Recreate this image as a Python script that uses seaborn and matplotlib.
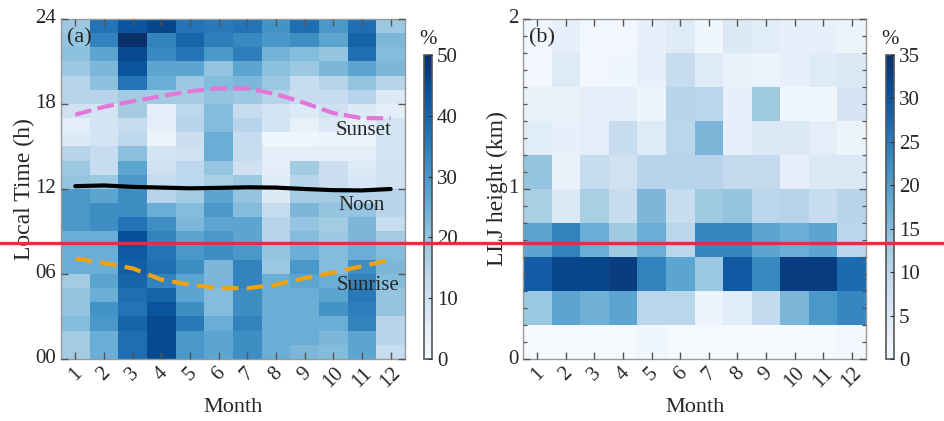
import numpy as np
import pandas as pd
import matplotlib
matplotlib.use("Agg")
import matplotlib.pyplot as plt
from matplotlib.lines import Line2D
from matplotlib.ticker import FixedLocator
import seaborn as sns

months = [str(m) for m in range(1, 13)]

# LLJ occurrence (%) by local hour, rows listed top (23-24 h) to bottom (00-01 h)
hour_rows = list(range(23, -1, -1))
time_pct = [
    [19, 37, 43, 46, 37, 36, 37, 31, 38, 30, 38, 19],
    [20, 34, 50, 34, 40, 35, 33, 30, 32, 27, 40, 23],
    [21, 27, 45, 33, 37, 30, 35, 24, 22, 20, 38, 22],
    [19, 23, 43, 27, 27, 20, 27, 21, 19, 23, 27, 23],
    [15, 21, 37, 25, 19, 22, 23, 19, 12, 15, 20, 15],
    [15, 15, 18, 18, 18, 20, 19, 15, 12, 12, 15, 7],
    [10, 9, 18, 5, 14, 22, 12, 9, 7, 10, 7, 5],
    [5, 9, 12, 5, 15, 22, 15, 9, 4, 7, 5, 9],
    [7, 9, 14, 3, 11, 25, 12, 2, 2, 3, 3, 9],
    [15, 12, 21, 9, 10, 25, 12, 5, 5, 5, 5, 9],
    [19, 12, 27, 10, 14, 20, 10, 5, 18, 11, 7, 10],
    [20, 19, 30, 12, 14, 17, 19, 6, 15, 11, 8, 10],
    [30, 27, 32, 15, 18, 27, 20, 7, 18, 18, 15, 15],
    [30, 32, 32, 25, 22, 30, 22, 12, 23, 20, 20, 15],
    [30, 32, 37, 32, 23, 27, 27, 15, 20, 18, 23, 12],
    [25, 25, 44, 34, 27, 30, 27, 15, 22, 19, 23, 18],
    [25, 25, 42, 37, 30, 32, 30, 20, 25, 22, 25, 22],
    [25, 25, 41, 38, 32, 23, 34, 19, 30, 22, 32, 23],
    [18, 27, 40, 34, 27, 23, 34, 25, 27, 25, 34, 22],
    [20, 25, 38, 40, 27, 22, 32, 25, 25, 27, 36, 20],
    [20, 31, 37, 43, 32, 22, 32, 25, 25, 31, 35, 20],
    [22, 30, 40, 45, 36, 25, 34, 25, 25, 25, 34, 15],
    [18, 25, 38, 45, 30, 27, 32, 25, 25, 23, 27, 15],
    [18, 25, 38, 45, 30, 27, 32, 25, 23, 22, 27, 12],
]

# LLJ height occurrence (%), rows listed top (1.8-2.0 km) to bottom (0-0.2 km)
height_rows = [1.9, 1.7, 1.5, 1.3, 1.1, 0.9, 0.7, 0.5, 0.3, 0.1]
height_pct = [
    [1.5, 3, 1, 1, 3, 4.5, 1.5, 5, 4, 3, 3, 2],
    [0.8, 4.5, 1, 1.5, 3, 8.5, 4.5, 2.5, 2, 3, 4.5, 5],
    [2.5, 2.5, 3.5, 3.5, 2, 10.5, 10, 3, 13, 1.5, 1.5, 6],
    [4, 3, 3.5, 8.5, 4.5, 10, 16, 3, 5, 5, 3.5, 2],
    [14, 2.5, 8.5, 7, 10.5, 10.5, 10.5, 9, 9, 3, 5, 5],
    [12, 5, 12, 8.5, 16, 8.5, 13, 14, 10, 10.5, 8.5, 10.5],
    [19, 24, 17.5, 13, 17.5, 10, 23.5, 23.5, 19, 17.5, 19, 10],
    [29, 32, 32, 33, 24, 19, 13.5, 29.5, 23, 33, 33, 27],
    [13.5, 19, 17, 19, 10, 10, 2, 4, 9, 16, 21, 23.5],
    [0.5, 0.5, 0.5, 0.5, 1.5, 0.5, 0.5, 0.5, 0.5, 0.5, 0.5, 1],
]

# sun times (local hour) per month
sunset = [17.25, 17.8, 18.2, 18.55, 18.9, 19.1, 19.1, 18.7, 18.07, 17.36, 17.0, 17.0]
noon = [12.2, 12.25, 12.15, 12.1, 12.05, 12.08, 12.12, 12.1, 12.0, 11.92, 11.9, 12.0]
sunrise = [7.08, 6.77, 6.4, 5.6, 5.25, 5.0, 5.0, 5.25, 5.7, 6.1, 6.55, 7.0]

df_time = pd.DataFrame(time_pct, index=hour_rows, columns=months)
df_height = pd.DataFrame(height_pct, index=height_rows, columns=months)

sns.set_style("ticks")
plt.rcParams["font.family"] = ["Liberation Serif", "DejaVu Serif"]
FS = 15

fig = plt.figure(figsize=(9.44, 4.21), dpi=100)
W, H = 944, 421


def px_axes(x0, y0, x1, y1):
    return fig.add_axes([x0 / W, (H - y1) / H, (x1 - x0) / W, (y1 - y0) / H])


ax1 = px_axes(61, 19, 405, 359)
cax1 = px_axes(424, 55, 432, 359)
ax2 = px_axes(523, 19, 866, 359)
cax2 = px_axes(886, 55, 894, 359)

sns.heatmap(df_time, ax=ax1, cbar_ax=cax1, cmap="Blues", vmin=0, vmax=50,
            linewidths=0, cbar_kws={"ticks": [0, 10, 20, 30, 40, 50]})
sns.heatmap(df_height, ax=ax2, cbar_ax=cax2, cmap="Blues", vmin=0, vmax=35,
            linewidths=0, cbar_kws={"ticks": [0, 5, 10, 15, 20, 25, 30, 35]})

xpos = np.arange(12) + 0.5
ax1.plot(xpos, [24 - v for v in sunset], color="#e377d8", lw=3, ls=(0, (4, 1.5)))
ax1.plot(xpos, [24 - v for v in noon], color="black", lw=3)
ax1.plot(xpos, [24 - v for v in sunrise], color="#f2a20f", lw=3, ls=(0, (4, 2)))
ax1.text(10.57, 7.85, "Sunset", fontsize=FS, ha="center", va="center")
ax1.text(10.5, 13.2, "Noon", fontsize=FS, ha="center", va="center")
ax1.text(10.7, 18.8, "Sunrise", fontsize=FS, ha="center", va="center")

for ax in (ax1, ax2):
    ax.set_axisbelow(False)
    ax.set_xticks(xpos)
    ax.set_xticklabels(months, rotation=45, ha="center", fontsize=FS)
    ax.set_xlabel("Month", fontsize=FS + 1)
    ax.tick_params(direction="in", top=True, right=True, length=5, width=1,
                   color="#555555", labelsize=FS)
    ax.tick_params(which="minor", direction="in", top=True, right=True, length=3,
                   width=0.9, color="#555555")
    for sp in ax.spines.values():
        sp.set_visible(True)
        sp.set_color("#999999")
        sp.set_linewidth(1)
    cb = ax.collections[0].colorbar
    cb.outline.set_visible(True)
    cb.outline.set_edgecolor("#555555")
    cb.outline.set_linewidth(1.2)

ax1.set_xlim(0, 12)
ax1.set_ylim(24, 0)
ax1.set_yticks([0, 6, 12, 18, 24])
ax1.set_yticklabels(["24", "18", "12", "06", "00"], rotation=0, fontsize=FS)
ax1.set_ylabel("Local Time (h)", fontsize=17, labelpad=0)
ax1.text(0.017, 0.945, "(a)", transform=ax1.transAxes, fontsize=FS + 1, va="center")

ax2.set_xlim(0, 12)
ax2.set_ylim(10, 0)
ax2.set_yticks([0, 5, 10])
ax2.set_yticklabels(["2", "1", "0"], rotation=0, fontsize=FS)
ax2.yaxis.set_minor_locator(FixedLocator(np.arange(0, 10.5, 0.5)))
ax2.set_ylabel("LLJ height (km)", fontsize=17, labelpad=0)
ax2.text(0.017, 0.945, "(b)", transform=ax2.transAxes, fontsize=FS + 1, va="center")

for cax in (cax1, cax2):
    cax.set_axisbelow(False)
    cax.tick_params(direction="in", length=3, color="#333333", labelsize=FS)
    cax.set_title("%", fontsize=FS, pad=8)

# red horizontal marker across the whole figure
fig.add_artist(Line2D([0, 1], [(H - 243) / H, (H - 243) / H], transform=fig.transFigure,
                      color="#d5353f", lw=2.4))

fig.savefig("out.png", dpi=100)
